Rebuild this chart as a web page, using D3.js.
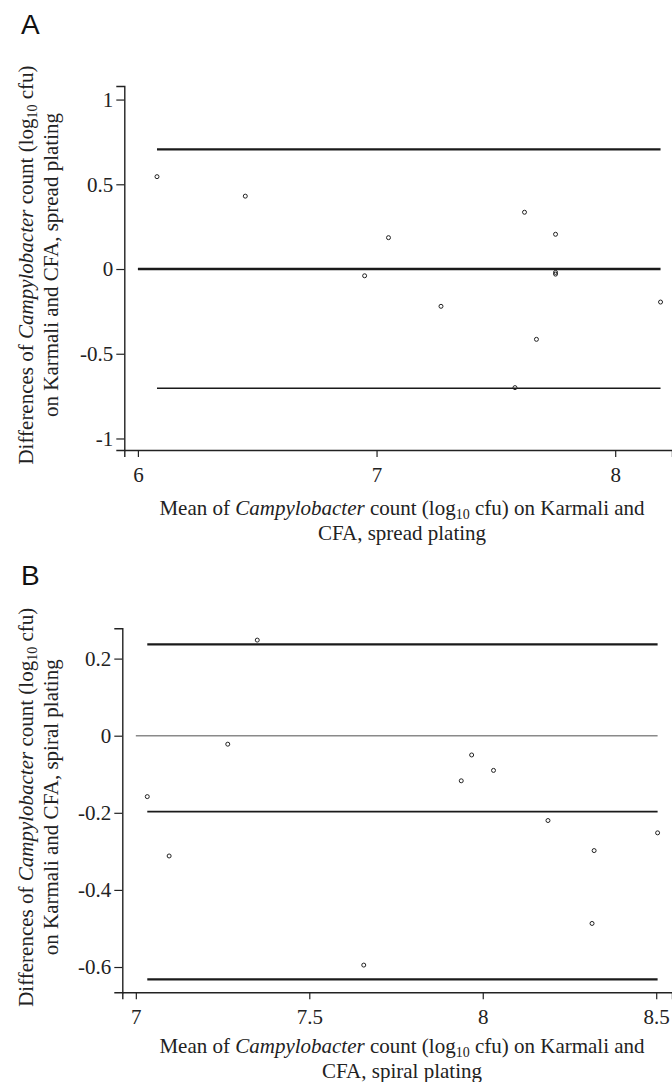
<!DOCTYPE html>
<html>
<head>
<meta charset="utf-8">
<script src="https://cdn.jsdelivr.net/npm/d3@7"></script>
<style>
html,body{margin:0;padding:0;background:#fff;}
svg{display:block;}
</style>
</head>
<body>
<svg id="chart" width="672" height="1082"></svg>
<script>
// ---------- Data ----------
// Panel A: spread plating
const aMeanCount = [6.08, 6.45, 7.05, 6.95, 7.27, 7.62, 7.75, 7.75, 7.75, 7.67, 7.58, 8.19];
const aDifference = [0.545, 0.43, 0.185, -0.04, -0.22, 0.335, 0.205, -0.02, -0.03, -0.415, -0.70, -0.195];
const aLines = [0.706, -0.704];        // limits of agreement
const aMeanDiff = 0;                    // mean difference / zero line
const aXTicks = [6, 7, 8];
const aYTicks = [1, 0.5, 0, -0.5, -1];
const aYTickLabels = ["1", "0.5", "0", "-0.5", "-1"];

// Panel B: spiral plating
const bMeanCount = [7.35, 7.265, 7.033, 7.096, 7.657, 7.968, 8.031, 7.938, 8.188, 8.504, 8.321, 8.315];
const bDifference = [0.248, -0.022, -0.158, -0.312, -0.595, -0.05, -0.09, -0.117, -0.22, -0.252, -0.298, -0.487];
const bLines = [0.237, -0.632];        // limits of agreement
const bMeanDiff = -0.197;               // mean difference
const bZero = 0;
const bXTicks = [7, 7.5, 8, 8.5];
const bXTickLabels = ["7", "7.5", "8", "8.5"];
const bYTicks = [0.2, 0, -0.2, -0.4, -0.6];
const bYTickLabels = ["0.2", "0", "-0.2", "-0.4", "-0.6"];

const svg = d3.select("#chart");
const serif = "'Liberation Serif','Times New Roman',serif";
const FS = 21;

function addTitle(g, parts) {
  let prevSub = false;
  parts.forEach(([t, s]) => {
    const ts = g.append("tspan").text(t);
    if (s === "i") ts.attr("font-style", "italic");
    if (s === "sub") { ts.attr("font-size", 14).attr("dy", 4); prevSub = true; }
    else if (prevSub) { ts.attr("dy", -4); prevSub = false; }
  });
}

function drawPanel(cfg) {
  const x = d3.scaleLinear().domain(cfg.xDomain).range([cfg.left, cfg.right]);
  const y = d3.scaleLinear().domain(cfg.yDomain).range([cfg.bottom, cfg.top]);
  const g = svg.append("g");

  svg.append("text").attr("x", 21).attr("y", cfg.letterY)
    .attr("font-family", "'Liberation Sans',Arial,sans-serif").attr("font-size", 28)
    .attr("fill", "#111").text(cfg.letter);

  const yAxis = d3.axisLeft(y).tickValues(cfg.yTicks).tickFormat((d, i) => cfg.yTickLabels[i]).tickSizeOuter(0).tickSize(8).tickPadding(3);
  const xAxis = d3.axisBottom(x).tickValues(cfg.xTicks).tickFormat((d, i) => cfg.xTickLabels[i]).tickSizeOuter(0).tickSize(7).tickPadding(10);
  const ya = g.append("g").attr("transform", `translate(${cfg.left},0)`).call(yAxis);
  const xa = g.append("g").attr("transform", `translate(0,${cfg.bottom})`).call(xAxis);
  [ya, xa].forEach(a => {
    a.select(".domain").attr("stroke", "#222").attr("stroke-width", 1.4);
    a.selectAll(".tick line").attr("stroke", "#222").attr("stroke-width", 1.2);
    a.selectAll(".tick text").attr("font-family", serif).attr("font-size", FS).attr("fill", "#222");
  });
  xa.selectAll(".tick text").attr("dy", "0.71em");

  const xMin = d3.min(cfg.xs), xMax = d3.max(cfg.xs);

  cfg.refLines.forEach(r => {
    g.append("line")
      .attr("x1", x(r.from === "tick" ? cfg.xTicks[0] : xMin)).attr("x2", x(xMax))
      .attr("y1", y(r.v)).attr("y2", y(r.v))
      .attr("stroke", r.color).attr("stroke-width", r.w);
  });

  g.selectAll("circle.pt").data(cfg.xs.map((d, i) => [d, cfg.ys[i]])).enter()
    .append("circle").attr("class", "pt")
    .attr("cx", d => x(d[0])).attr("cy", d => y(d[1])).attr("r", 2)
    .attr("fill", "none").attr("stroke", "#222").attr("stroke-width", 1);

  const cy = (cfg.top + cfg.bottom) / 2 - 3;
  const yt1 = svg.append("text").attr("transform", `translate(33,${cy}) rotate(-90)`)
    .attr("text-anchor", "middle").attr("font-family", serif).attr("font-size", FS).attr("fill", "#222");
  addTitle(yt1, [["Differences of ", "n"], ["Campylobacter", "i"], [" count (log", "n"], ["10", "sub"], [" cfu)", "n"]]);
  svg.append("text").attr("transform", `translate(58,${cy}) rotate(-90)`)
    .attr("text-anchor", "middle").attr("font-family", serif).attr("font-size", FS).attr("fill", "#222")
    .text(cfg.yTitle2);

  const xt1 = svg.append("text").attr("x", 402).attr("y", cfg.xTitleY)
    .attr("text-anchor", "middle").attr("font-family", serif).attr("font-size", FS).attr("fill", "#222");
  addTitle(xt1, [["Mean of ", "n"], ["Campylobacter", "i"], [" count (log", "n"], ["10", "sub"], [" cfu) on Karmali and", "n"]]);
  svg.append("text").attr("x", 402).attr("y", cfg.xTitleY + 25)
    .attr("text-anchor", "middle").attr("font-family", serif).attr("font-size", FS).attr("fill", "#222")
    .text(cfg.xTitle2);
}

drawPanel({
  letter: "A", letterY: 34,
  left: 124.3, right: 672, top: 86, bottom: 450,
  xDomain: [5.943, 8.238], yDomain: [-1.068, 1.08],
  xTicks: aXTicks, xTickLabels: aXTicks.map(String),
  yTicks: aYTicks, yTickLabels: aYTickLabels,
  xs: aMeanCount, ys: aDifference,
  refLines: [
    { v: aLines[0], w: 2.4, color: "#1a1a1a" },
    { v: aMeanDiff, w: 2.4, color: "#1a1a1a", from: "tick" },
    { v: aLines[1], w: 1.5, color: "#1a1a1a" }
  ],
  yTitle2: "on Karmali and CFA, spread plating",
  xTitleY: 515, xTitle2: "CFA, spread plating"
});

drawPanel({
  letter: "B", letterY: 585,
  left: 122.3, right: 672, top: 628.3, bottom: 992.3,
  xDomain: [6.961, 8.5455], yDomain: [-0.6656, 0.2786],
  xTicks: bXTicks, xTickLabels: bXTickLabels,
  yTicks: bYTicks, yTickLabels: bYTickLabels,
  xs: bMeanCount, ys: bDifference,
  refLines: [
    { v: bLines[0], w: 2.2, color: "#1a1a1a" },
    { v: bZero, w: 1.6, color: "#8a8a8a", from: "tick" },
    { v: bMeanDiff, w: 1.6, color: "#1a1a1a" },
    { v: bLines[1], w: 2.4, color: "#1a1a1a" }
  ],
  yTitle2: "on Karmali and CFA, spiral plating",
  xTitleY: 1053, xTitle2: "CFA, spiral plating"
});
</script>
</body>
</html>
